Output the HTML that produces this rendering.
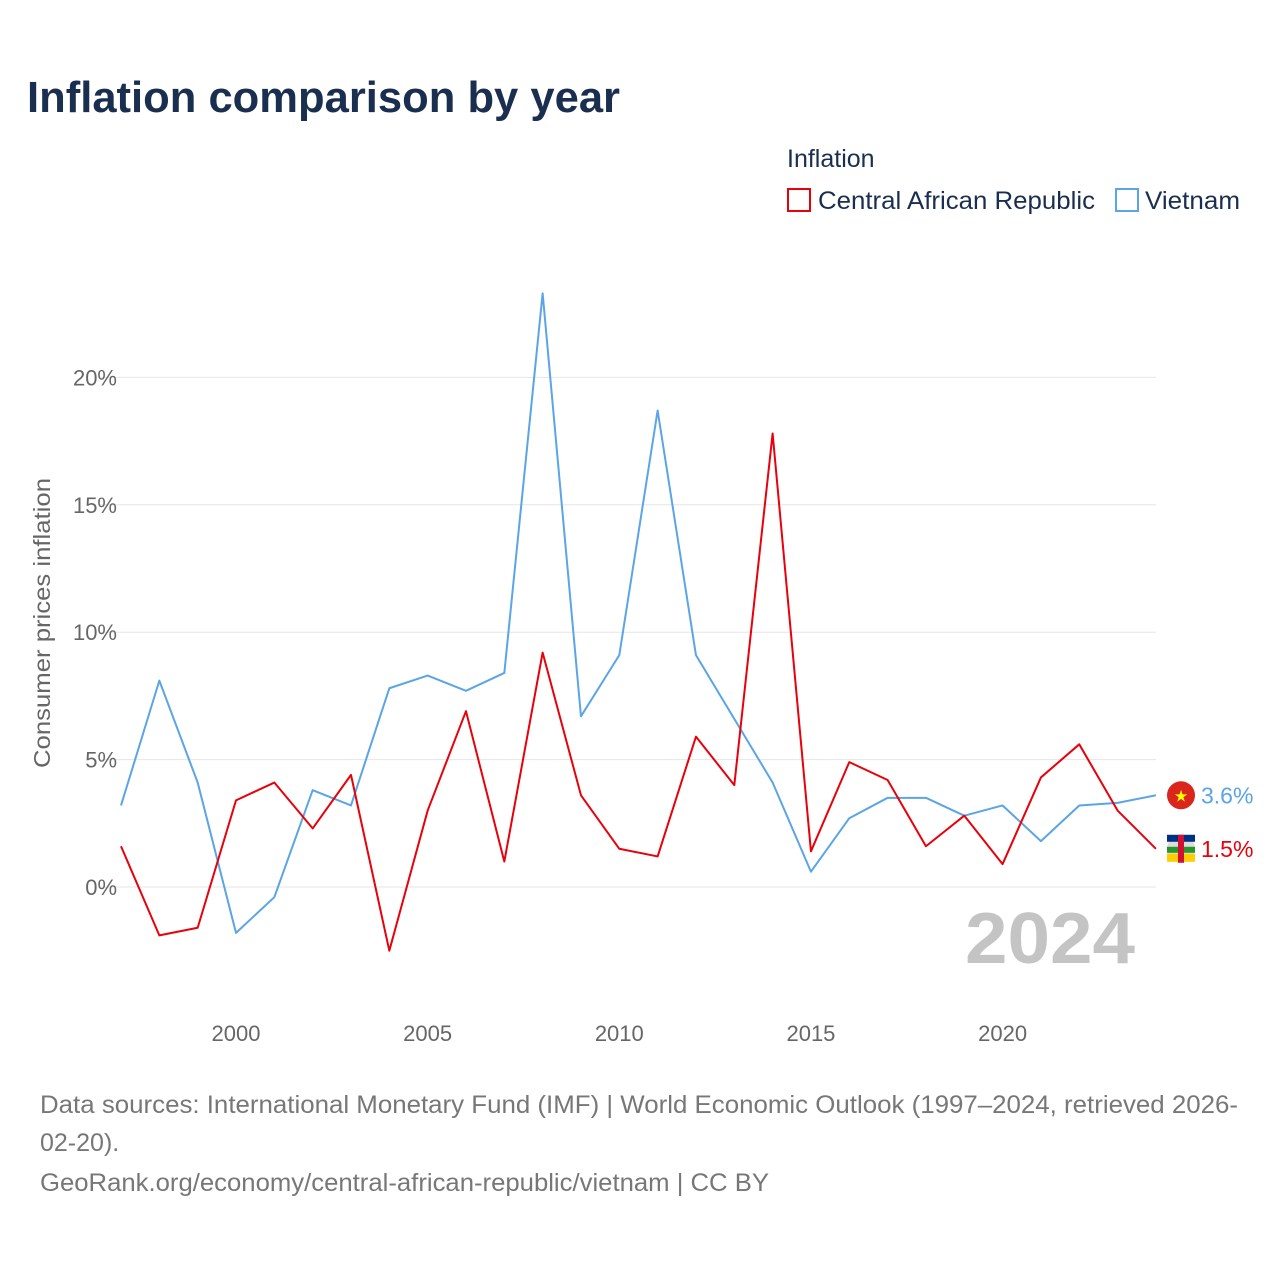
<!DOCTYPE html>
<html><head><meta charset="utf-8"><style>
body{margin:0;background:#fff;font-family:"Liberation Sans",sans-serif;}
</style></head><body>
<svg id="c" width="1280" height="1280" xmlns="http://www.w3.org/2000/svg">
<rect width="1280" height="1280" fill="#fff"/>
<text x="27" y="112" font-size="44" font-weight="bold" fill="#1a2e4f" textLength="593" lengthAdjust="spacingAndGlyphs">Inflation comparison by year</text>
<text x="787" y="167" font-size="25" fill="#1a2e4f">Inflation</text>
<g><rect x="788" y="189" width="22" height="22" fill="none" stroke="#e8000b" stroke-width="2"/><text x="818" y="209" font-size="25" fill="#1a2e4f" textLength="277" lengthAdjust="spacingAndGlyphs">Central African Republic</text></g>
<g><rect x="1116" y="189" width="22" height="22" fill="none" stroke="#5ba4e6" stroke-width="2"/><text x="1145" y="209" font-size="25" fill="#1a2e4f" textLength="95" lengthAdjust="spacingAndGlyphs">Vietnam</text></g>
<text transform="translate(50,623) rotate(-90)" text-anchor="middle" font-size="23" fill="#666" textLength="290" lengthAdjust="spacingAndGlyphs">Consumer prices inflation</text>
<g id="grid"></g><g id="xt"></g>
<text x="965" y="963" font-size="72" font-weight="bold" fill="#c4c4c4" textLength="170" lengthAdjust="spacingAndGlyphs">2024</text>
<g id="lines"></g>
<text x="40" y="1113" font-size="25" fill="#777" textLength="1198" lengthAdjust="spacingAndGlyphs">Data sources: International Monetary Fund (IMF) | World Economic Outlook (1997–2024, retrieved 2026-</text>
<text x="40" y="1151" font-size="25" fill="#777">02-20).</text>
<text x="40" y="1191" font-size="25" fill="#777" textLength="729" lengthAdjust="spacingAndGlyphs">GeoRank.org/economy/central-african-republic/vietnam | CC BY</text>
</svg>
<script>
const years=[1997,1998,1999,2000,2001,2002,2003,2004,2005,2006,2007,2008,2009,2010,2011,2012,2013,2014,2015,2016,2017,2018,2019,2020,2021,2022,2023,2024];
const vietnam=[3.2,8.1,4.1,-1.8,-0.4,3.8,3.2,7.8,8.3,7.7,8.4,23.3,6.7,9.1,18.7,9.1,6.6,4.1,0.6,2.7,3.5,3.5,2.8,3.2,1.8,3.2,3.3,3.6];
const car=[1.6,-1.9,-1.6,3.4,4.1,2.3,4.4,-2.5,3.0,6.9,1.0,9.2,3.6,1.5,1.2,5.9,4.0,17.8,1.4,4.9,4.2,1.6,2.8,0.9,4.3,5.6,3.0,1.5];
const yTicks=[0,5,10,15,20];
const xTicks=[2000,2005,2010,2015,2020];
const NS="http://www.w3.org/2000/svg";
const X=y=>236+(y-2000)*38.33;
const Y=v=>887-v*25.48;
function mk(t,a,p){const e=document.createElementNS(NS,t);for(const k in a)e.setAttribute(k,a[k]);p.appendChild(e);return e;}
const g=document.getElementById('grid');
yTicks.forEach(v=>{
 const l=mk('line',{x1:100,x2:1156,y1:Y(v),y2:Y(v),stroke:'#e6e6e6','stroke-width':1},g);
 
 
 const t=mk('text',{x:117,y:Y(v)+8,'text-anchor':'end','font-size':22,fill:'#666'},g);
 t.textContent=v+'%';
 
 
});
const xt=document.getElementById('xt');
xTicks.forEach(y=>{
 const t=mk('text',{x:X(y),y:1041,'text-anchor':'middle','font-size':22,fill:'#666'},xt);
 t.textContent=y;
 
 
});
const lg=document.getElementById('lines');
function line(data,col,name){
 const p=mk('polyline',{points:data.map((v,i)=>X(years[i])+','+Y(v)).join(' '),fill:'none',stroke:col,'stroke-width':2,'stroke-linejoin':'round'},lg);
 
 
 const last=data[data.length-1],ly=Y(last);
 const c=mk('circle',{cx:1181,cy:ly,r:14,fill:name=='vietnam'?'#da251d':'#ddd'},lg);
 
 
 if(name=='vietnam'){const s=mk('text',{x:1181,y:ly+6,'text-anchor':'middle','font-size':16,fill:'#ff0'},lg);s.textContent='★';}
 else{mk('rect',{x:1167,y:ly-14,width:28,height:7,fill:'#003082'},lg);mk('rect',{x:1167,y:ly-2,width:28,height:6,fill:'#289728'},lg);mk('rect',{x:1167,y:ly+5,width:28,height:8,fill:'#ffce00'},lg);mk('rect',{x:1178,y:ly-14,width:6,height:28,fill:'#d21034'},lg);}
 const t=mk('text',{x:1201,y:ly+8,'font-size':23,fill:col},lg);
 t.textContent=last.toFixed(1)+'%';
 
 
}
line(vietnam,'#5ba4e6','vietnam');
line(car,'#e8000b','car');
</script>
</body></html>
